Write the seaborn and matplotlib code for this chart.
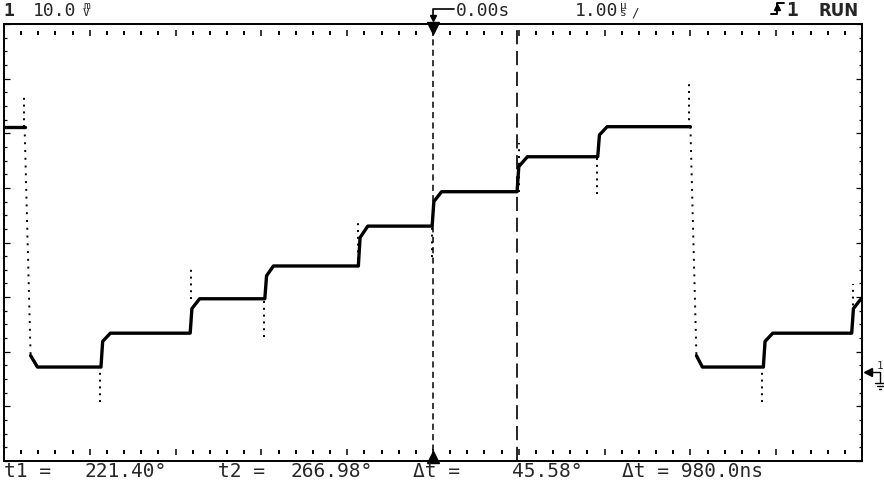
import numpy as np
import pandas as pd
import seaborn as sns
import matplotlib.pyplot as plt
from matplotlib.lines import Line2D

# screen: 10 div x 1.00 us/div, 8 div x 10.0 mV/div
T_MIN, T_MAX = -5.0, 5.0
V_MIN, V_MAX = -16.3, 63.7   # ground marker sits 1.63 div above the bottom

# staircase trace (us, mV)
edge_t   = [-4.76, -3.87, -2.83, -1.96, -0.87, -0.01, 0.98, 1.92, 3.00, 3.85, 4.88]
knee_t   = [-4.69, -3.85, -2.81, -1.94, -0.85, 0.01, 1.00, 1.94, 3.07, 3.87, 4.90]
settle_t = [-4.61, -3.76, -2.72, -1.86, -0.76, 0.10, 1.10, 2.03, 3.14, 3.96, 4.99]
level_mv = [44.9, 0.9, 7.1, 13.4, 19.4, 26.7, 33.0, 39.4, 44.9, 0.9, 7.1, 13.4]
knee_mv  = [3.0, 5.6, 11.6, 17.6, 24.6, 31.2, 37.6, 43.4, 3.0, 5.6, 11.6]

# sparse glitch dots around the edges
glitch_t  = [-4.77, -3.88, -2.82, -1.97, -0.87, -0.01, 1.00, 1.91, 2.98, 3.84, 4.90]
glitch_lo = [44.9, -5.5, 13.4, 6.4, 19.4, 21.0, 33.0, 32.6, 44.9, -5.5, 9.7]
glitch_hi = [51.0, 0.9, 19.2, 13.4, 27.5, 26.7, 42.0, 39.4, 52.7, 0.9, 16.1]

cursor_t = [0.0, 0.98]   # t1, t2  (delta t = 980.0 ns)

header = [("1", 3, True), ("10.0", 33, False), ("0.00s", 456, False), ("1.00", 575, False)]
footer = [("t1 =", 4), ("221.40°", 84), ("t2 =", 218), ("266.98°", 290),
          ("Δt =", 413), ("45.58°", 512), ("Δt = 980.0ns", 622)]

# build the trace as polylines; big falls are drawn dotted (sparse samples)
solid, dotted = [], []
seg = 0
solid.append((seg, T_MIN, level_mv[0]))
for i, te in enumerate(edge_t):
    prev, new = level_mv[i], level_mv[i + 1]
    solid.append((seg, te, prev))
    if abs(new - prev) > 20:
        dotted.append((i, te, prev))
        dotted.append((i, knee_t[i], knee_mv[i]))
        seg += 1
    solid.append((seg, knee_t[i], knee_mv[i]))
    solid.append((seg, settle_t[i], new))
solid.append((seg, T_MAX, level_mv[-1]))
df_solid = pd.DataFrame(solid, columns=["seg", "t", "mv"])
df_dot = pd.DataFrame(dotted, columns=["seg", "t", "mv"])

sns.set_style("white")
plt.rcParams["font.family"] = ["DejaVu Sans Mono", "DejaVu Sans"]

W, H = 884, 485
fig = plt.figure(figsize=(W / 100, H / 100), dpi=100)
ax = fig.add_axes([4 / W, 23 / H, 858 / W, 437 / H])

sns.lineplot(data=df_solid, x="t", y="mv", units="seg", estimator=None, sort=False,
             color="black", lw=2.4, ax=ax, legend=False)
sns.lineplot(data=df_dot, x="t", y="mv", units="seg", estimator=None, sort=False,
             color="black", lw=1.4, ls=(0, (1, 3)), ax=ax, legend=False)
ax.vlines(glitch_t, glitch_lo, glitch_hi, colors="black", lw=1.4, linestyles=(0, (1, 2.5)))

# cursors
ax.axvline(cursor_t[0], color="black", lw=1.1, ls=(0, (4, 2.8)))
ax.axvline(cursor_t[1], color="black", lw=1.2, ls=(0, (8.5, 4)))
ax.plot([cursor_t[0]], [1 - 4 / 437], marker="v", ms=9, color="black",
        transform=ax.get_xaxis_transform(), clip_on=False)
ax.plot([cursor_t[0]], [4 / 437], marker="^", ms=9, color="black",
        transform=ax.get_xaxis_transform(), clip_on=False)

# graticule dots along top and bottom
xs = np.round(np.arange(T_MIN + 0.2, T_MAX - 0.1, 0.2), 2)
major = xs[np.isclose(xs, np.round(xs))]
minor = xs[~np.isclose(xs, np.round(xs))]
for yy in (1 - 9 / 437, 9 / 437):
    ax.plot(minor, [yy] * len(minor), ls="none", marker="|", ms=2.2, mew=1.4,
            color="black", transform=ax.get_xaxis_transform())
    ax.plot(major, [yy] * len(major), ls="none", marker="|", ms=5, mew=1.1,
            color="black", transform=ax.get_xaxis_transform())

ax.set_xlim(T_MIN, T_MAX)
ax.set_ylim(V_MIN, V_MAX)
ax.set_xticks([])
ax.set_yticks(np.arange(V_MIN, V_MAX + 0.01, 10))
ax.set_yticks(np.arange(V_MIN, V_MAX + 0.01, 2.5), minor=True)
ax.tick_params(axis="y", which="both", direction="in", left=True, right=True,
               labelleft=False, color="black", width=0.9)
ax.tick_params(axis="y", which="major", length=4.5)
ax.tick_params(axis="y", which="minor", length=2.2)
ax.set_xlabel("")
ax.set_ylabel("")
for sp in ax.spines.values():
    sp.set_color("black")
    sp.set_linewidth(1.4)


def px_text(x, y, s, **kw):
    fig.text(x / W, 1 - y / H, s, ha="left", va="baseline", **kw)


def px_line(xs_, ys_, **kw):
    fig.add_artist(Line2D([x / W for x in xs_], [1 - y / H for y in ys_],
                          transform=fig.transFigure, color="black", **kw))


# header
for s, x, bold in header:
    px_text(x, 16, s, fontsize=13, fontweight="bold" if bold else "normal")
fig.text(83 / W, 1 - 18 / H, "m\nV", ha="left", va="bottom", fontsize=8,
         linespacing=0.68)
fig.text(620 / W, 1 - 18 / H, "µ\ns", ha="left", va="bottom", fontsize=8,
         linespacing=0.68)
px_text(631, 16, "/", fontsize=9)
px_line([454, 433, 433], [10, 10, 19], lw=1.2)
px_line([433], [19], marker="v", ms=5, ls="none")
px_line([771, 777, 777, 784], [15, 15, 4, 4], lw=1.4)
px_line([777], [8], marker="^", ms=5, ls="none")
px_text(786, 16, "1", fontsize=14, fontweight="bold")
fig.text(819 / W, 1 - 16 / H, "RUN", ha="left", va="baseline", fontsize=12,
         fontweight="bold", family="DejaVu Sans")

# footer
for s, x in footer:
    px_text(x, 477, s, fontsize=14)

# ground reference marker on the right
px_line([867, 880, 880], [373, 373, 383], lw=1.0)
px_line([868], [373], marker="<", ms=6, ls="none")
px_line([875, 885], [384, 384], lw=1.0)
px_line([877, 883], [387, 387], lw=1.0)
px_line([879, 881], [390, 390], lw=1.0)
px_text(877, 369, "1", fontsize=8)

fig.savefig("out.png", dpi=100)
